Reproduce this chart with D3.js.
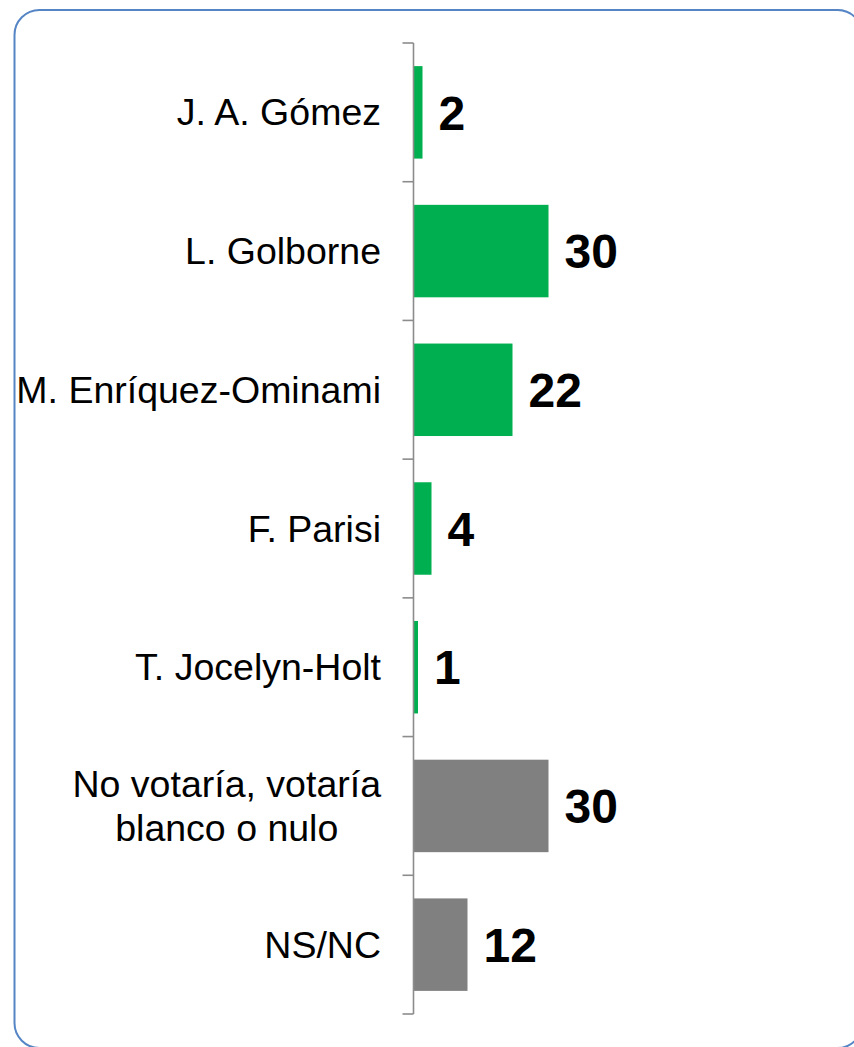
<!DOCTYPE html>
<html>
<head>
<meta charset="utf-8">
<script src="https://cdn.jsdelivr.net/npm/d3@7"></script>
<style>
  html, body { margin: 0; padding: 0; background: #fff; }
  svg { display: block; }
</style>
</head>
<body>
<svg id="chart" width="854" height="1047"></svg>
<script>
// Voting intention by candidate (%)
const categories = [
  "J. A. Gómez",
  "L. Golborne",
  "M. Enríquez-Ominami",
  "F. Parisi",
  "T. Jocelyn-Holt",
  "No votaría, votaría\nblanco o nulo",
  "NS/NC"
];
const values = [2, 30, 22, 4, 1, 30, 12];
const groups = ["cand", "cand", "cand", "cand", "cand", "other", "other"];

const colors = { cand: "#00B050", other: "#808080" };

const svg = d3.select("#chart");

// Rounded frame around the chart area
svg.append("rect")
  .attr("x", 14.5).attr("y", 10)
  .attr("width", 848).attr("height", 1038)
  .attr("rx", 25).attr("ry", 25)
  .attr("fill", "#fff")
  .attr("stroke", "#5585C5")
  .attr("stroke-width", 2);

const axisX = 413.5;
const y = d3.scaleBand()
  .domain(d3.range(categories.length))
  .range([43, 1014])
  .paddingInner(1 / 3)
  .paddingOuter(1 / 6);

const x = d3.scaleLinear()
  .domain([0, 30])
  .range([axisX, axisX + 135]);

// Bars
svg.append("g").selectAll("rect")
  .data(values)
  .join("rect")
  .attr("x", x(0))
  .attr("y", (d, i) => y(i))
  .attr("width", d => x(d) - x(0))
  .attr("height", y.bandwidth())
  .attr("fill", (d, i) => colors[groups[i]]);

// Category axis: line with tick marks between categories
const axisG = svg.append("g");
const [yTop, yBottom] = y.range();
axisG.append("line")
  .attr("x1", axisX).attr("x2", axisX)
  .attr("y1", yTop).attr("y2", yBottom)
  .attr("stroke", "#8C8C8C").attr("stroke-width", 1.6);
const tickYs = d3.range(categories.length + 1)
  .map(i => yTop + (yBottom - yTop) * i / categories.length);
axisG.selectAll("line.tick")
  .data(tickYs)
  .join("line")
  .attr("class", "tick")
  .attr("x1", axisX - 11).attr("x2", axisX)
  .attr("y1", d => d).attr("y2", d => d)
  .attr("stroke", "#8C8C8C").attr("stroke-width", 1.6);

// Category labels (multi-line labels are centred within their block)
const labelRight = 381;
const fontSize = 37.5;
const lineH = 44;
categories.forEach((cat, i) => {
  const lines = cat.split("\n");
  const cy = y(i) + y.bandwidth() / 2;
  const t = svg.append("text")
    .attr("font-family", "Arial, 'Liberation Sans', sans-serif")
    .attr("font-size", fontSize)
    .attr("fill", "#000");
  const startY = cy - (lines.length - 1) * lineH / 2;
  const spans = lines.map((ln, k) => t.append("tspan")
    .attr("x", labelRight)
    .attr("y", startY + k * lineH)
    .attr("dy", "0.35em")
    .attr("text-anchor", "end")
    .text(ln));
  if (lines.length > 1) {
    const widths = spans.map(s => s.node().getComputedTextLength());
    const maxW = d3.max(widths);
    const mid = labelRight - maxW / 2;
    spans.forEach(s => s.attr("x", mid).attr("text-anchor", "middle"));
  }
});

// Value labels
svg.append("g").selectAll("text")
  .data(values)
  .join("text")
  .attr("x", d => x(d) + 16)
  .attr("y", (d, i) => y(i) + y.bandwidth() / 2)
  .attr("dy", "0.36em")
  .attr("font-family", "Arial, 'Liberation Sans', sans-serif")
  .attr("font-size", 48)
  .attr("font-weight", "bold")
  .attr("fill", "#000")
  .text(d => d);
</script>
</body>
</html>
